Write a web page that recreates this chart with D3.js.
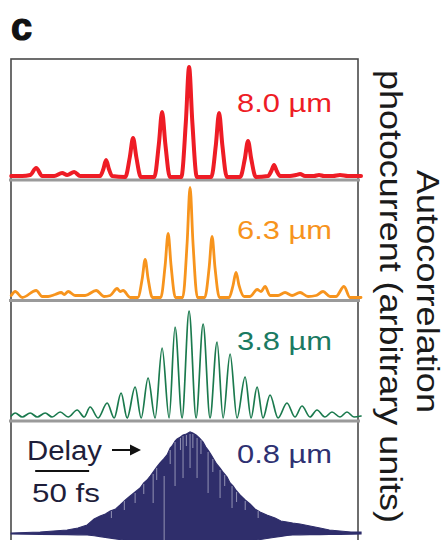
<!DOCTYPE html>
<html><head><meta charset="utf-8">
<script src="https://cdn.jsdelivr.net/npm/d3@7"></script>
<style>html,body{margin:0;padding:0;background:#fff;} svg{display:block}</style>
</head><body><svg id="c" width="447" height="540"></svg>
<script>
// ---------- DATA (delay in fs, signal in arbitrary units) ----------
const panelLabels = ["8.0 µm", "6.3 µm", "3.8 µm", "0.8 µm"];
const axisTitle = ["Autocorrelation", "photocurrent (arbitrary units)"];
const scaleBarFs = 50;
const scaleBarText = "50 fs";
const delayText = "Delay";
const figLetter = "c";

const red80 = [[-164.8,1],[-154.6,1],[-147.2,2],[-141.7,9],[-136.1,1],[-125.0,1],[-117.6,4],[-113.0,2],[-106.5,5],[-100.9,1],[-86.1,1],[-82.4,1],[-79.4,8],[-76.9,17],[-74.3,8],[-71.3,1],[-59.1,0],[-54.9,20],[-51.9,39],[-48.9,20],[-44.7,0],[-32.2,0],[-28.0,33],[-25.0,65],[-22.0,33],[-17.8,0],[-7.2,0],[-3.0,55],[0,110],[3.0,55],[7.2,0],[20.6,0],[24.8,32],[27.8,64],[30.8,32],[35.0,0],[47.4,0],[51.6,18],[54.6,36],[57.6,18],[61.8,0],[73.1,1],[76.2,6],[78.7,12],[81.2,6],[84.3,1],[93.5,1],[99.1,2],[102.8,3],[107.4,1],[115.7,1],[120.4,2],[125.0,1],[133.3,1],[139.8,2],[147.2,1],[159.3,1]];

const orange63 = [[-164.8,2],[-161.1,6],[-154.6,0],[-141.7,7],[-136.1,1],[-130.6,1],[-124.1,3],[-118.5,5],[-115.7,3],[-112.0,6],[-105.6,2],[-96.3,2],[-86.1,7],[-78.7,1],[-73.1,2],[-66.7,9],[-63.9,6],[-61.1,7],[-54.6,0],[-47.5,0],[-43.4,19],[-40.7,38],[-38.0,19],[-34.0,0],[-26.2,0],[-22.2,32],[-19.4,64],[-16.7,32],[-12.7,0],[-5.9,0],[-1.8,55],[0.9,110],[3.6,55],[7.7,0],[14.5,0],[18.6,30],[21.3,61],[24.0,30],[28.1,0],[37.0,0],[40.7,12],[43.5,25],[46.3,12],[50.9,1],[56.5,1],[63.0,8],[66.7,6],[70.4,11],[75.0,2],[82.4,2],[88.9,5],[95.4,2],[102.8,5],[110.2,1],[117.6,2],[124.1,6],[130.6,1],[136.1,1],[143.5,11],[149.1,0],[159.3,0]];

const green38 = [[-164.8,2],[-161.1,5],[-154.6,1],[-147.2,5],[-140.7,1],[-133.3,5],[-126.9,1],[-119.4,6],[-112.0,1],[-103.7,8],[-97.2,1],[-91.7,11],[-84.3,0],[-75.9,15],[-69.4,0],[-63.0,25],[-57.4,0],[-50.0,31],[-44.4,0],[-38.0,40],[-31.5,0],[-25.0,70],[-18.5,0],[-13.0,91],[-6.5,0],[0,107],[6.5,0],[13.0,94],[19.4,0],[25.9,76],[31.5,0],[38.0,64],[44.4,0],[51.9,41],[57.4,0],[63.0,31],[68.5,0],[75.0,23],[82.4,0],[90.7,15],[98.1,1],[104.6,12],[112.0,1],[118.5,8],[125.9,1],[132.4,6],[139.8,1],[146.3,6],[152.8,1],[159.3,2]];

const navy08Upper = [[-164.8,5],[-138.0,6],[-113.0,8],[-103.0,10],[-94.4,13],[-88.0,19],[-82.4,22],[-77.5,24],[-73.1,27],[-68.0,29],[-63.9,33],[-59.0,38],[-54.6,42],[-50.0,46],[-45.4,50],[-42.0,55],[-38.9,58],[-36.0,62],[-33.3,66],[-30.0,71],[-26.9,75],[-23.5,79],[-20.4,83],[-17.5,90],[-15.7,92],[-13.0,97],[-11.1,99],[-8.0,101],[-5.6,103],[-2.5,104],[0.9,106],[3.5,105],[6.5,103],[9.5,100],[13.0,96],[15.5,91],[17.6,88],[20.0,84],[22.2,80],[25.5,74],[28.7,70],[32.0,65],[35.2,61],[38.0,55],[40.7,52],[44.0,47],[47.2,43],[52.0,38],[56.5,34],[61.0,29],[65.7,26],[72.0,23],[79.6,20],[85.0,17],[90.7,16],[96.0,15],[102.8,14],[112.0,12],[121.3,10],[130.0,8],[139.8,7],[150.0,6],[159.3,6]];
const navy08Lower = [[-164.8,4],[-92.6,3],[-54.6,-3],[56.5,-3],[93.5,3],[159.3,4]];
const navyStreaks = [[-23.1,62,-3],[-13.0,96,52],[-5.6,102,60],[0.9,104,70],[7.4,100,60],[17.6,86,45],[28.7,68,40],[-33.3,64,35],[39.8,52,30],
  [-42.0,54,44],[-30.0,70,58],[-17.5,88,74],[-8.0,100,88],[-2.5,103,92],[3.5,104,90],[11.0,98,84],[22.0,79,66],[33.0,63,52],[44.0,46,36],[-60.0,37,28],[-50.0,45,35],[52.0,37,28],[-72.0,27,20],[64.0,27,20]];

// ---------- LAYOUT ----------
const svg = d3.select("#c");
const L = 11, R = 358;
const panelBots = [180, 300.5, 421, 541];
const colors = ["#ee1c25", "#f7941d", "#1b7a4e", "#2f2e6b"];
const labelColors = ["#ee1c25", "#f7941d", "#1a7a62", "#2e3172"];
const widths = [4.0, 2.8, 1.7];
const series = [red80, orange63, green38];

const x = d3.scaleLinear().domain([-165, 156.5]).range([L, R]);
const yFor = i => d3.scaleLinear().domain([0, 110]).range([panelBots[i] - 3, panelBots[i] - 113]);

const font = "'Liberation Sans', Arial, Helvetica, sans-serif";

// frame
svg.append("rect").attr("x", L).attr("y", 59).attr("width", R - L).attr("height", 541 - 59)
  .attr("fill", "none").attr("stroke", "#4a4a4a").attr("stroke-width", 1.6);

// dividers
panelBots.slice(0, 3).forEach(yb => {
  svg.append("line").attr("x1", L - 2).attr("x2", R + 2).attr("y1", yb).attr("y2", yb)
    .attr("stroke", "#9a9a9a").attr("stroke-width", 3);
});

// line series
series.forEach((data, i) => {
  const y = yFor(i);
  const line = d3.line().x(d => x(d[0])).y(d => y(d[1])).curve(d3.curveMonotoneX);
  svg.append("path").datum(data).attr("d", line).attr("fill", "none")
    .attr("stroke", colors[i]).attr("stroke-width", widths[i])
    .attr("stroke-linejoin", "round").attr("stroke-linecap", "round");
});

// bottom panel filled autocorrelation
{
  const y = yFor(3);
  const lo = d3.scaleLinear().domain(navy08Lower.map(d => d[0])).range(navy08Lower.map(d => d[1]));
  const area = d3.area().x(d => x(d[0])).y1(d => y(d[1])).y0(d => y(lo(d[0]))).curve(d3.curveLinear);
  svg.append("path").datum(navy08Upper).attr("d", area).attr("fill", colors[3])
    .attr("stroke", colors[3]).attr("stroke-width", 1.2);
  svg.selectAll(".streak").data(navyStreaks).join("line")
    .attr("x1", d => x(d[0])).attr("x2", d => x(d[0]))
    .attr("y1", d => y(d[1])).attr("y2", d => y(d[2]))
    .attr("stroke", "#b4b4cc").attr("stroke-opacity", 0.75).attr("stroke-width", 1);
}

// panel labels
const labelBase = [112, 239, 350, 463];
panelLabels.forEach((t, i) => {
  svg.append("text").attr("x", 237).attr("y", labelBase[i]).text(t)
    .attr("font-family", font).attr("font-size", 26).attr("fill", labelColors[i])
    .attr("textLength", 95).attr("lengthAdjust", "spacingAndGlyphs");
});

// figure letter
svg.append("text").attr("x", 11).attr("y", 40).text(figLetter)
  .attr("font-family", font).attr("font-weight", "bold").attr("font-size", 38)
  .attr("fill", "#111").attr("stroke", "#111").attr("stroke-width", 1.2);

// Delay + arrow
svg.append("text").attr("x", 27).attr("y", 460).text(delayText)
  .attr("font-family", font).attr("font-size", 27).attr("fill", "#1e1e3a")
  .attr("textLength", 75).attr("lengthAdjust", "spacingAndGlyphs");
svg.append("line").attr("x1", 112).attr("x2", 132).attr("y1", 450).attr("y2", 450)
  .attr("stroke", "#111").attr("stroke-width", 2);
svg.append("path").attr("d", "M130,444.5 L141,450 L130,455.5 Z").attr("fill", "#111");

// scale bar
const sbStart = -142.6;
svg.append("line").attr("x1", x(sbStart)).attr("x2", x(sbStart + scaleBarFs))
  .attr("y1", 471).attr("y2", 471).attr("stroke", "#111").attr("stroke-width", 2);
svg.append("text").attr("x", 32).attr("y", 502).text(scaleBarText)
  .attr("font-family", font).attr("font-size", 26).attr("fill", "#1e1e3a")
  .attr("textLength", 68).attr("lengthAdjust", "spacingAndGlyphs");

// right axis title (rotated)
svg.append("text").attr("transform", "translate(417,170) rotate(90)").text(axisTitle[0])
  .attr("font-family", font).attr("font-size", 32).attr("fill", "#1a1a1a")
  .attr("textLength", 243).attr("lengthAdjust", "spacingAndGlyphs");
svg.append("text").attr("transform", "translate(380,70) rotate(90)").text(axisTitle[1])
  .attr("font-family", font).attr("font-size", 32).attr("fill", "#1a1a1a")
  .attr("textLength", 453).attr("lengthAdjust", "spacingAndGlyphs");
</script></body></html>
